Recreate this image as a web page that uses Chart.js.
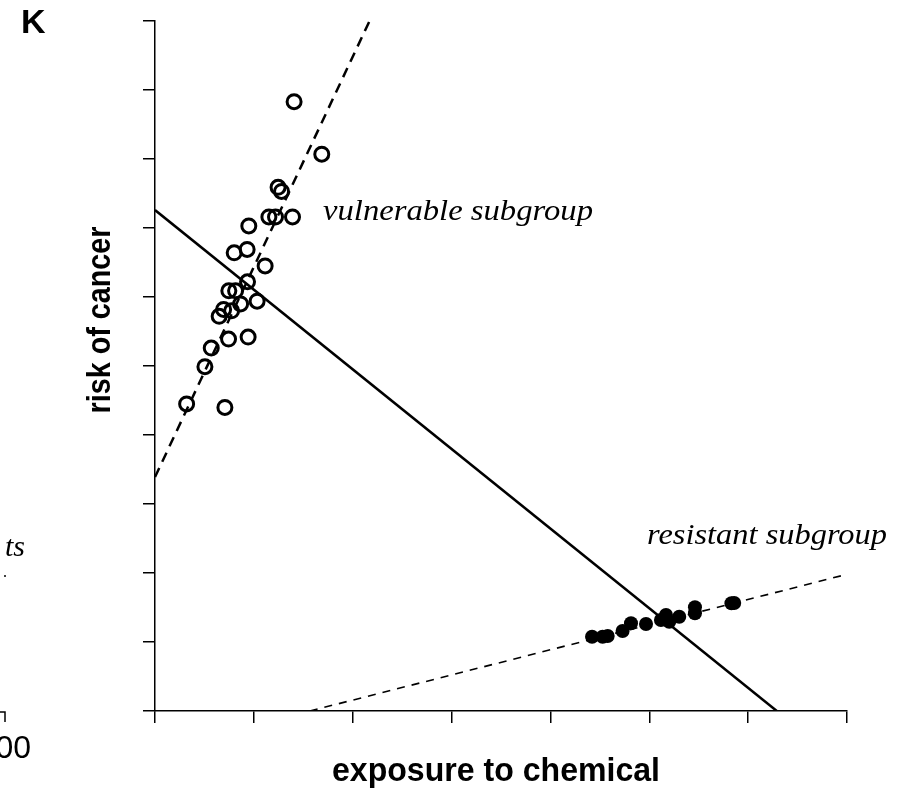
<!DOCTYPE html>
<html>
<head>
<meta charset="utf-8">
<script src="https://cdn.jsdelivr.net/npm/chart.js@4.4.0/dist/chart.umd.min.js"></script>
<style>
    html, body { margin: 0; padding: 0; background: #fff; }
</style>
</head>
<body>
<canvas id="riskChart" width="909" height="791"></canvas>
<script>
// Vulnerable subgroup (open circles)
const vulnX = [1.407, 1.687, 1.245, 1.280, 0.949, 1.152, 1.219, 1.391, 0.801, 0.932, 1.114, 0.936,
    0.747, 0.815, 0.866, 1.033, 0.694, 0.775, 0.649, 0.744, 0.942, 0.569, 0.505, 0.320, 0.707];
const vulnY = [8.83, 8.07, 7.59, 7.53, 7.03, 7.16, 7.16, 7.16, 6.64, 6.69, 6.45, 6.22,
    6.09, 6.09, 5.90, 5.94, 5.82, 5.80, 5.72, 5.39, 5.42, 5.26, 4.99, 4.45, 4.40];

// Resistant subgroup (filled circles)
const resX = [4.421, 4.528, 4.579, 4.730, 4.815, 4.967, 5.118, 5.169, 5.202, 5.303, 5.462, 5.462, 5.831, 5.859];
const resY = [1.077, 1.077, 1.087, 1.159, 1.271, 1.261, 1.319, 1.391, 1.294, 1.367, 1.503, 1.416, 1.561, 1.565];

// Fitted lines (end points)
const vulnFitX = [0, 2.17];
const vulnFitY = [3.39, 10];
const overallFitX = [0, 6.29];
const overallFitY = [7.26, 0];
const resFitX = [1.566, 6.97];
const resFitY = [0, 1.97];

// Axis ranges (unlabelled ticks)
const xRange = [0, 7];
const yRange = [0, 10];

function toPoints(xs, ys) {
    return xs.map((x, i) => ({ x: x, y: ys[i] }));
}

// draws text squeezed/stretched to a given width
function drawFitted(ctx, text, x, y, font, width, align) {
    ctx.save();
    ctx.font = font;
    const w = ctx.measureText(text).width;
    const s = width / w;
    ctx.translate(x, y);
    ctx.scale(s, 1);
    ctx.textAlign = align;
    ctx.textBaseline = 'alphabetic';
    ctx.fillText(text, 0, 0);
    ctx.restore();
}

const labelsPlugin = {
    id: 'labels',
    afterDraw(chart) {
        const ctx = chart.ctx;
        ctx.save();
        ctx.fillStyle = '#000';

        // panel letter
        ctx.font = 'bold 34px "Liberation Sans", Arial, sans-serif';
        ctx.textAlign = 'left';
        ctx.fillText('K', 21, 33);

        // axis titles
        drawFitted(ctx, 'exposure to chemical', 496, 781, 'bold 33px "Liberation Sans", Arial, sans-serif', 328, 'center');

        ctx.save();
        ctx.translate(110, 320);
        ctx.rotate(-Math.PI / 2);
        drawFitted(ctx, 'risk of cancer', 0, 0, 'bold 34px "Liberation Sans", Arial, sans-serif', 187, 'center');
        ctx.restore();

        // subgroup labels
        drawFitted(ctx, 'vulnerable subgroup', 323, 220, 'italic 30px "Liberation Serif", "Times New Roman", serif', 270, 'left');
        drawFitted(ctx, 'resistant subgroup', 647, 544, 'italic 30px "Liberation Serif", "Times New Roman", serif', 240, 'left');

        // fragments of the neighbouring panel
        ctx.font = 'italic 30px "Liberation Serif", "Times New Roman", serif';
        ctx.textAlign = 'right';
        ctx.fillText('ts', 25, 556);
        ctx.beginPath();
        ctx.arc(5, 576, 1, 0, Math.PI * 2);
        ctx.fill();
        ctx.font = '32px "Liberation Sans", Arial, sans-serif';
        ctx.fillText('00', 31, 758);
        ctx.strokeStyle = '#000';
        ctx.lineWidth = 1.5;
        ctx.beginPath();
        ctx.moveTo(0, 712);
        ctx.lineTo(5, 712);
        ctx.lineTo(5, 722);
        ctx.stroke();

        ctx.restore();
    }
};

const ctx = document.getElementById('riskChart').getContext('2d');

const riskChart = new Chart(ctx, {
    type: 'scatter',
    data: {
        datasets: [
            {
                label: 'vulnerable',
                data: toPoints(vulnX, vulnY),
                pointStyle: 'circle',
                pointRadius: 7,
                pointBorderWidth: 3,
                borderColor: '#000',
                backgroundColor: 'rgba(0,0,0,0)',
                order: 1
            },
            {
                label: 'resistant',
                data: toPoints(resX, resY),
                pointStyle: 'circle',
                pointRadius: 7,
                pointBorderWidth: 0,
                borderColor: '#000',
                backgroundColor: '#000',
                order: 2
            },
            {
                label: 'vulnerable fit',
                data: toPoints(vulnFitX, vulnFitY),
                showLine: true,
                pointRadius: 0,
                borderColor: '#000',
                borderWidth: 2.5,
                borderDash: [10, 7],
                order: 3
            },
            {
                label: 'overall fit',
                data: toPoints(overallFitX, overallFitY),
                showLine: true,
                pointRadius: 0,
                borderColor: '#000',
                borderWidth: 2.5,
                order: 4
            },
            {
                label: 'resistant fit',
                data: toPoints(resFitX, resFitY),
                showLine: true,
                pointRadius: 0,
                borderColor: '#000',
                borderWidth: 1.6,
                borderDash: [8, 7],
                order: 5
            }
        ]
    },
    options: {
        responsive: false,
        animation: false,
        layout: {
            padding: { left: 0, top: 21, right: 62, bottom: 0 }
        },
        scales: {
            x: {
                type: 'linear',
                min: xRange[0],
                max: xRange[1],
                ticks: { display: false, stepSize: 1 },
                grid: { drawOnChartArea: false, drawTicks: true, tickLength: 12, color: '#000', lineWidth: 1.5 },
                border: { display: true, color: '#000', width: 1.5 },
                afterFit: (scale) => { scale.height = 80; }
            },
            y: {
                type: 'linear',
                min: yRange[0],
                max: yRange[1],
                ticks: { display: false, stepSize: 1 },
                grid: { drawOnChartArea: false, drawTicks: true, tickLength: 12, color: '#000', lineWidth: 1.5 },
                border: { display: true, color: '#000', width: 1.5 },
                afterFit: (scale) => { scale.width = 155; }
            }
        },
        plugins: {
            legend: { display: false },
            tooltip: { enabled: false }
        }
    },
    plugins: [labelsPlugin]
});
</script>
</body>
</html>
